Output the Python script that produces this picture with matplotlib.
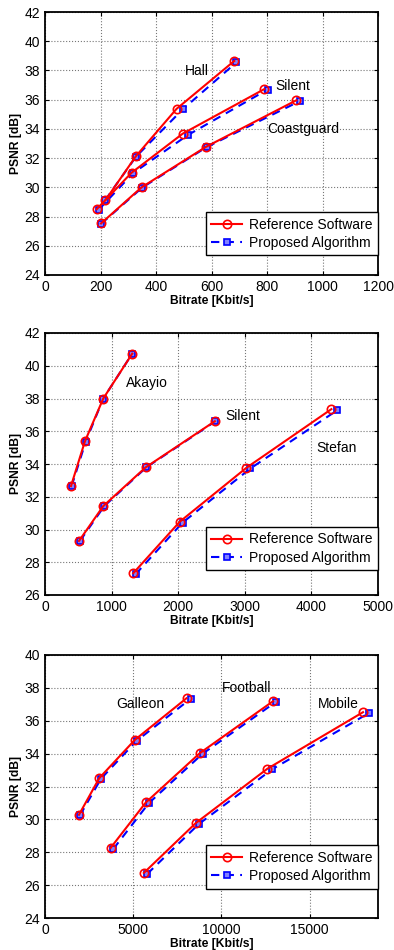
import matplotlib
matplotlib.use("Agg")
import matplotlib.pyplot as plt

plt.rcParams['font.family'] = ['Liberation Sans', 'DejaVu Sans']

# panel 1 data (Kbit/s, dB)
hall_ref_x = [218, 328, 474, 682]
hall_ref_y = [29.13, 32.14, 35.37, 38.65]
hall_pro_x = [216, 328, 496, 690]
hall_pro_y = [29.10, 32.10, 35.33, 38.56]
silent1_ref_x = [186, 312, 496, 790]
silent1_ref_y = [28.50, 31.00, 33.67, 36.72]
silent1_pro_x = [194, 318, 514, 802]
silent1_pro_y = [28.48, 30.98, 33.57, 36.69]
coast_ref_x = [202, 348, 580, 906]
coast_ref_y = [27.53, 30.00, 32.77, 35.96]
coast_pro_x = [202, 350, 582, 918]
coast_pro_y = [27.50, 29.98, 32.75, 35.90]

# panel 2 data
akayio_ref_x = [390, 600, 875, 1310]
akayio_ref_y = [32.65, 35.39, 38.00, 40.74]
akayio_pro_x = [400, 610, 875, 1310]
akayio_pro_y = [32.65, 35.35, 38.00, 40.74]
silent2_ref_x = [510, 875, 1510, 2550]
silent2_ref_y = [29.30, 31.43, 33.79, 36.61]
silent2_pro_x = [525, 890, 1520, 2560]
silent2_pro_y = [29.30, 31.43, 33.79, 36.61]
stefan_ref_x = [1325, 2025, 3025, 4300]
stefan_ref_y = [27.33, 30.48, 33.77, 37.35]
stefan_pro_x = [1360, 2065, 3085, 4390]
stefan_pro_y = [27.27, 30.42, 33.73, 37.29]

# panel 3 data
galleon_ref_x = [1925, 3075, 5095, 8020]
galleon_ref_y = [30.28, 32.51, 34.84, 37.37]
galleon_pro_x = [1980, 3170, 5190, 8245]
galleon_pro_y = [30.24, 32.47, 34.78, 37.33]
football_ref_x = [3715, 5715, 8775, 12925]
football_ref_y = [28.26, 31.03, 34.03, 37.19]
football_pro_x = [3870, 5885, 8925, 13115]
football_pro_y = [28.20, 30.99, 33.99, 37.17]
mobile_ref_x = [5600, 8550, 12600, 18020]
mobile_ref_y = [26.74, 29.78, 33.08, 36.52]
mobile_pro_x = [5790, 8720, 12890, 18340]
mobile_pro_y = [26.68, 29.72, 33.06, 36.46]

panels = [
    dict(rect=[45, 12, 333, 263], xlim=(0, 1200), ylim=(24, 42),
         xticks=[0, 200, 400, 600, 800, 1000, 1200], yticks=range(24, 43, 2),
         curves=[(hall_ref_x, hall_ref_y, hall_pro_x, hall_pro_y),
                 (silent1_ref_x, silent1_ref_y, silent1_pro_x, silent1_pro_y),
                 (coast_ref_x, coast_ref_y, coast_pro_x, coast_pro_y)],
         labels=[("Hall", 546, 37.97), ("Silent", 894, 36.94), ("Coastguard", 932, 33.98)],
         leg_y=0.075),
    dict(rect=[45, 333, 333, 262], xlim=(0, 5000), ylim=(26, 42),
         xticks=[0, 1000, 2000, 3000, 4000, 5000], yticks=range(26, 43, 2),
         curves=[(akayio_ref_x, akayio_ref_y, akayio_pro_x, akayio_pro_y),
                 (silent2_ref_x, silent2_ref_y, silent2_pro_x, silent2_pro_y),
                 (stefan_ref_x, stefan_ref_y, stefan_pro_x, stefan_pro_y)],
         labels=[("Akayio", 1525, 38.95), ("Silent", 2965, 36.92), ("Stefan", 4375, 34.99)],
         leg_y=0.095),
    dict(rect=[45, 655, 333, 263], xlim=(0, 18870), ylim=(24, 40),
         xticks=[0, 5000, 10000, 15000], yticks=range(24, 41, 2),
         curves=[(galleon_ref_x, galleon_ref_y, galleon_pro_x, galleon_pro_y),
                 (football_ref_x, football_ref_y, football_pro_x, football_pro_y),
                 (mobile_ref_x, mobile_ref_y, mobile_pro_x, mobile_pro_y)],
         labels=[("Galleon", 5380, 37.0), ("Football", 11415, 37.98), ("Mobile", 16600, 37.0)],
         leg_y=0.112),
]

W, H = 394, 950
fig = plt.figure(figsize=(W / 100, H / 100), dpi=100)

for p in panels:
    l, t, w, h = p['rect']
    ax = fig.add_axes([l / W, (H - t - h) / H, w / W, h / H])
    for i, (rx, ry, px, py) in enumerate(p['curves']):
        ax.plot(rx, ry, '-o', color='red', lw=1.5, ms=6, mfc='none', mew=1.2,
                label='Reference Software' if i == 0 else None, zorder=3)
        ax.plot(px, py, '--s', color='blue', lw=1.5, ms=5, mfc='#8080ff', mew=1.2,
                dashes=(4, 3), label='Proposed Algorithm' if i == 0 else None, zorder=2)
    for txt, x, y in p['labels']:
        ax.text(x, y, txt, ha='center', va='center', fontsize=10)
    ax.set_xlim(*p['xlim'])
    ax.set_ylim(*p['ylim'])
    ax.set_xticks(p['xticks'])
    ax.set_yticks(list(p['yticks']))
    ax.grid(True, ls=':', color='#777777', lw=0.8)
    ax.tick_params(direction='in', labelsize=10, length=3, top=True, right=True)
    for s in ax.spines.values():
        s.set_linewidth(1.3)
    ax.set_xlabel('Bitrate [Kbit/s]', fontsize=8.7, fontweight='bold', labelpad=1)
    ax.set_ylabel('PSNR [dB]', fontsize=8.7, fontweight='bold', labelpad=2)
    leg = ax.legend(loc='lower right', bbox_to_anchor=(1.0, p['leg_y']), fontsize=10,
                    fancybox=False, framealpha=1, edgecolor='black', handlelength=2.2,
                    handletextpad=0.5, borderaxespad=0.0, labelspacing=0.3, borderpad=0.4)
    leg.get_frame().set_linewidth(1.0)

fig.savefig('out.png', dpi=100)
